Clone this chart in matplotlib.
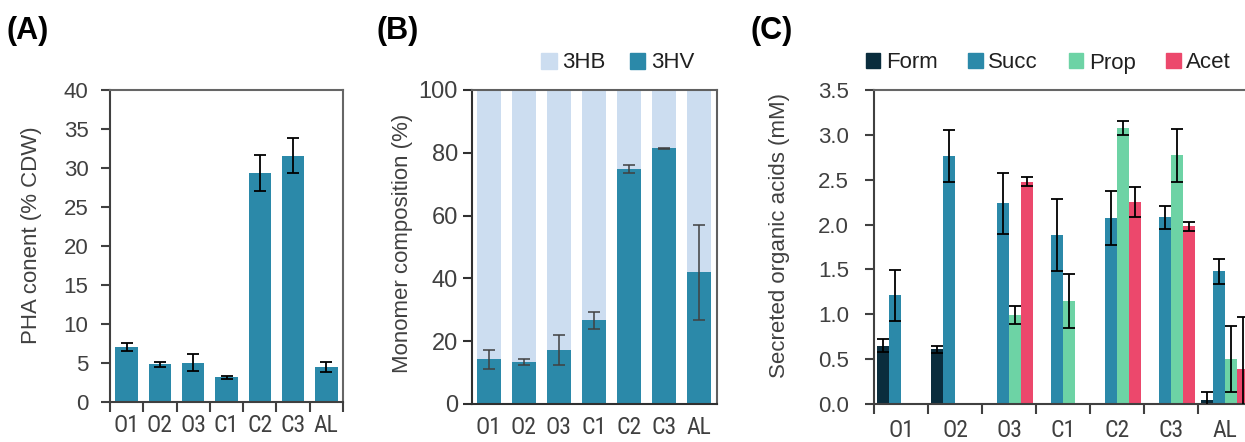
import numpy as np
import matplotlib
matplotlib.use("Agg")
import matplotlib.pyplot as plt
from matplotlib.patches import Patch

plt.rcParams['font.family'] = ['Liberation Sans', 'DejaVu Sans']

# ---------------- data ----------------
categories = ["O1", "O2", "O3", "C1", "C2", "C3", "AL"]

pha_content = [7.05, 4.83, 5.05, 3.15, 29.35, 31.6, 4.5]
pha_err = [0.5, 0.3, 1.05, 0.2, 2.3, 2.2, 0.65]

hv_comp = [14.3, 13.4, 17.2, 26.6, 74.8, 81.4, 41.9]
hv_err = [3.0, 1.0, 4.8, 2.6, 1.2, 0.2, 15.0]

acid_names = ["Form", "Succ", "Prop", "Acet"]
form_vals = [0.65, 0.61, 0.0, 0.0, 0.0, 0.0, 0.045]
form_err = [0.075, 0.04, 0.0, 0.0, 0.0, 0.0, 0.09]
succ_vals = [1.21, 2.76, 2.24, 1.88, 2.07, 2.08, 1.48]
succ_err = [0.285, 0.29, 0.34, 0.40, 0.30, 0.13, 0.14]
prop_vals = [0.0, 0.0, 0.995, 1.15, 3.08, 2.77, 0.505]
prop_err = [0.0, 0.0, 0.10, 0.30, 0.08, 0.29, 0.37]
acet_vals = [0.0, 0.0, 2.48, 0.0, 2.25, 1.98, 0.395]
acet_err = [0.0, 0.0, 0.05, 0.0, 0.17, 0.05, 0.57]

# ---------------- style ----------------
BLUE = '#2B89A9'
LIGHT = '#CCDDF0'
FORM_C = '#0A2D3D'
PROP_C = '#6DD3A5'
ACET_C = '#EC486C'
TXT = '#404040'
FS = 16
XFONT = ['Roboto Condensed', 'Liberation Sans', 'DejaVu Sans']

W, H = 1245, 442
fig = plt.figure(figsize=(W / 100, H / 100), dpi=100)

def ax_at(l, r, t, b):
    return fig.add_axes([l / W, 1 - b / H, (r - l) / W, (b - t) / H])

x = np.arange(len(categories))

def style_axis(ax, ypad, xpad, dark='#404040', light='#666666'):
    for s in ['left', 'bottom']:
        ax.spines[s].set_color(dark)
        ax.spines[s].set_linewidth(1.5)
    for s in ['top', 'right']:
        ax.spines[s].set_color(light)
        ax.spines[s].set_linewidth(1.5)
    ax.tick_params(axis='y', labelsize=FS, labelcolor=TXT, color=dark, width=1.5,
                   length=6.5, direction='out', pad=ypad)
    ax.tick_params(axis='x', which='major', length=0, pad=xpad, labelsize=FS + 1,
                   labelcolor=TXT)
    for t in ax.get_xticklabels():
        t.set_family(XFONT)

def place_ylabel(ax, text, right_px, center_px):
    ax.set_ylabel(text, fontsize=FS, color=TXT)
    ax.yaxis.set_label_coords(right_px / W, 1 - center_px / H, transform=fig.transFigure)

# ---------------- panel A ----------------
axA = ax_at(110, 343, 90, 402)
axA.bar(x, pha_content, width=0.67, color=BLUE, zorder=2)
axA.errorbar(x, pha_content, yerr=pha_err, fmt='none', ecolor='black', elinewidth=1.3,
             capsize=4, capthick=1.3, zorder=3)
axA.set_xlim(-0.5, 6.5)
axA.set_ylim(0, 40)
axA.set_yticks(np.arange(0, 41, 5))
axA.set_xticks(x)
axA.set_xticklabels(categories)
axA.set_xticks(np.arange(-0.5, 7.0, 1.0), minor=True)
style_axis(axA, ypad=9, xpad=9)
axA.tick_params(axis='x', which='minor', length=7, width=1.5, color='#404040')
place_ylabel(axA, "PHA conent (% CDW)", 42, 235)

# ---------------- panel B ----------------
axB = ax_at(472, 717, 90, 404)
hb = [100 - v for v in hv_comp]
axB.bar(x, hv_comp, width=0.67, color=BLUE, zorder=2)
axB.bar(x, hb, width=0.67, bottom=hv_comp, color=LIGHT, zorder=2)
axB.errorbar(x, hv_comp, yerr=hv_err, fmt='none', ecolor='#404040', elinewidth=1.1,
             capsize=4.5, capthick=1.1, zorder=3)
axB.set_xlim(-0.48, 6.52)
axB.set_ylim(0, 100)
axB.set_yticks(np.arange(0, 101, 20))
axB.set_xticks(x)
axB.set_xticklabels(categories)
style_axis(axB, ypad=3.5, xpad=8.5, dark='#303030', light='#606060')
axB.tick_params(axis='y', labelsize=FS + 1)
place_ylabel(axB, "Monomer composition (%)", 413, 243)
hB = [Patch(color=LIGHT), Patch(color=BLUE)]
fig.legend(hB, ['3HB', '3HV'], loc='center left', bbox_to_anchor=(541 / W, 1 - 63 / H),
           ncol=2, frameon=False, fontsize=FS, handlelength=0.7, handleheight=0.7,
           handletextpad=0.25, columnspacing=1.1, borderpad=0, borderaxespad=0,
           labelcolor='#202020')

# ---------------- panel C ----------------
axC = ax_at(874, 874 + 378, 90, 404)
series = [(form_vals, form_err, FORM_C), (succ_vals, succ_err, BLUE),
          (prop_vals, prop_err, PROP_C), (acet_vals, acet_err, ACET_C)]
bw = 0.222
for i, (vals, errs, col) in enumerate(series):
    pos = x + (i - 1.5) * bw
    axC.bar(pos, vals, width=bw, color=col, zorder=2)
    v = np.array(vals)
    e = np.array(errs)
    m = v > 0
    axC.errorbar(pos[m], v[m], yerr=e[m], fmt='none', ecolor='black', elinewidth=1.3,
                 capsize=4.5, capthick=1.3, zorder=3)
axC.set_xlim(-0.5, 6.5)
axC.set_ylim(0, 3.5)
yt = np.arange(0, 3.51, 0.5)
axC.set_yticks(yt)
axC.set_yticklabels([f"{t:.1f}" for t in yt])
axC.set_xticks(x)
axC.set_xticklabels(categories)
axC.set_xticks(np.arange(-0.5, 7.0, 1.0), minor=True)
style_axis(axC, ypad=11.5, xpad=10.5)
axC.tick_params(axis='x', which='minor', length=7, width=1.5, color='#404040')
place_ylabel(axC, "Secreted organic acids (mM)", 790, 235)
hC = [Patch(color=FORM_C), Patch(color=BLUE), Patch(color=PROP_C), Patch(color=ACET_C)]
fig.legend(hC, acid_names, loc='center left', bbox_to_anchor=(866 / W, 1 - 63 / H),
           ncol=4, frameon=False, fontsize=FS, handlelength=0.65, handleheight=0.65,
           handletextpad=0.25, columnspacing=1.38, borderpad=0, borderaxespad=0,
           labelcolor='#202020')

# ---------------- panel labels ----------------
for lbl, px in [("(A)", 7), ("(B)", 377), ("(C)", 750)]:
    fig.text(px / W, 1 - 31 / H, lbl, fontsize=22, fontweight='bold', color='black',
             ha='left', va='center')

fig.savefig("out.png", dpi=100)
